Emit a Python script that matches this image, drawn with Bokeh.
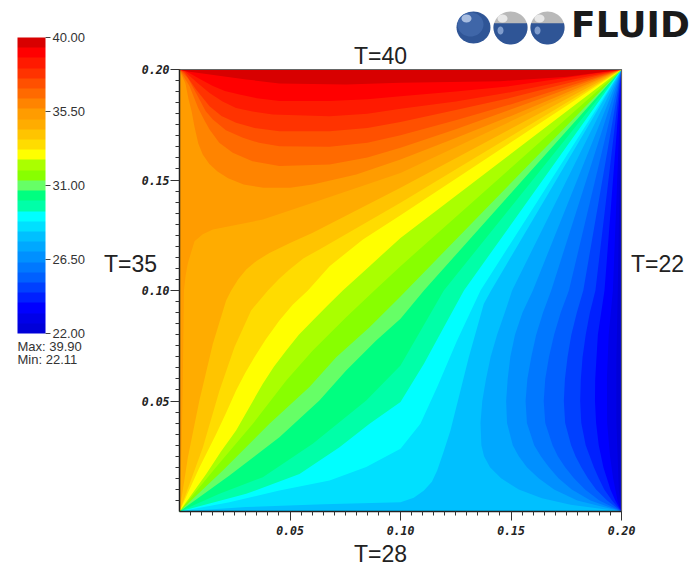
import numpy as np
from bokeh.embed import file_html
from bokeh.resources import INLINE
from bokeh.plotting import figure
from bokeh.models import (Range1d, LinearAxis, FixedTicker, PrintfTickFormatter, ColorBar,
                          LinearColorMapper, Label)

tick_major = [0.05, 0.10, 0.15, 0.20]
tick_minor = [round(0.005 * i, 3) for i in range(1, 41) if i % 10]
bar_ticks = [22.0, 26.5, 31.0, 35.5, 40.0]
t_low, t_high = 22.0, 40.0
stats = ["Max:  39.90", "Min:  22.11"]
walls = ["T=40", "T=35", "T=22", "T=28"]

palette = ["#0000d8", "#0000e8", "#0000ff", "#0020ff", "#0040ff", "#0060ff", "#0078ff", "#0090ff",
           "#00a8ff", "#00c0ff", "#00e0ff", "#00ffff", "#00ffa8", "#00ff80", "#66ff66", "#88ff00",
           "#aaff00", "#ffff00", "#ffdc00", "#ffc400", "#ffac00", "#ff9c00", "#ff8400", "#ff6a00",
           "#ff5000", "#ff3300", "#ff1a00", "#ff0000", "#d80000"]

# Isotherms between successive bands (metres).
# Family C: from the bottom-right corner to the top-right corner.
e01_x = [.1988, .1977, .1977, .1983]
e01_y = [.0095, .0397, .0698, .1]
e02_x = [.1982, .1962, .1948, .1935, .1934, .1942, .1961]
e02_y = [.005, .015, .025, .04, .06, .08, .1]
e03_x = [.1972, .195, .1918, .1897, .1885, .188, .1881, .1893, .1923]
e03_y = [.005, .01, .02, .03, .04, .05, .06, .08, .1]
e04_x = [.1957, .1922, .1897, .1875, .1838, .1818, .1813, .1816, .1824, .1838, .1857, .1882]
e04_y = [.005, .01, .015, .02, .03, .04, .05, .06, .07, .08, .09, .1]
e05_x = [.1935, .1885, .1848, .1818, .1792, .1772, .1745, .1739, .1744, .1756, .1773, .1798, .1827]
e05_y = [.005, .01, .015, .02, .025, .03, .04, .05, .06, .07, .08, .09, .1]
e06_x = [.19, .1835, .1785, .1745, .1712, .1688, .1655, .1648, .1655, .1672, .1695, .1725, .1762]
e06_y = [.005, .01, .015, .02, .025, .03, .04, .05, .06, .07, .08, .09, .1]
e07_x = [.186, .1775, .1715, .1672, .1635, .1605, .1572, .1566, .1574, .1592, .1614, .1645, .1682]
e07_y = [.005, .01, .015, .02, .025, .03, .04, .05, .06, .07, .08, .09, .1]
e08_x = [.18, .1695, .1625, .1572, .1535, .1508, .1482, .1478, .1485, .1497, .1518, .1552, .1599]
e08_y = [.005, .01, .015, .02, .025, .03, .04, .05, .06, .07, .08, .09, .1]
e09_x = [.177, .164, .1535, .1455, .1405, .1378, .1366, .1362, .137, .1387, .1408, .1437, .1472, .1505]
e09_y = [.003, .006, .01, .015, .02, .025, .03, .04, .05, .06, .07, .08, .09, .1]
# Family B: from the bottom-left corner to the top-right corner.
e10_x = [.03, .065, .1, .106, .1106, .1142, .1166, .1195, .1226, .1309, .1377, .141]
e10_y = [.002, .0033, .0042, .0062, .0095, .0135, .0186, .027, .0367, .0698, .094, .1]
e11_x = [.0226, .0452, .0679, .0845, .1, .109, .1166, .1256, .1362]
e11_y = [.0042, .0095, .014, .0201, .0284, .0397, .0563, .0774, .1]
e12_x = [.0302, .0543, .0724, .086, .1, .1106, .1196, .1287]
e12_y = [.008, .017, .0291, .0397, .0495, .0668, .0834, .1]
e13_x = [.0181, .0377, .0603, .0845, .1, .1196]
e13_y = [.008, .0155, .0306, .0502, .0661, .1]
e14_x = [.0226, .0452, .0633, .0754, .089, .1, .1106]
e14_y = [.0163, .0336, .0502, .0638, .0774, .0872, .1]
e15_x = [.0196, .0407, .0588, .0709, .086, .1]
e15_y = [.0186, .0397, .0563, .0698, .0834, .0973]
e16_x = [.0166, .0332, .0483, .0603, .0754, .0882, .1]
e16_y = [.0201, .0397, .0593, .0729, .0879, .1, .111]
e17_x = [.0121, .0187, .0256, .0315, .0377, .0427, .0483, .054, .0603, .067, .0739, .086, .1]
e17_y = [.017, .027, .0367, .047, .0578, .0655, .0729, .08, .0864, .0932, .1, .111, .1238]
e18_x = [.0088, .0166, .021, .0256, .0296, .0339, .039, .0452, .0512, .0581, .0679, .083, .1]
e18_y = [.0195, .0351, .0445, .0548, .0625, .0698, .0778, .0864, .0935, .1, .111, .1231, .1341]
e19_x = [.0106, .0181, .0249, .0324, .04, .045, .0498, .056, .0633, .1]
e19_y = [.0291, .0548, .0744, .091, .1, .1052, .1095, .1145, .1186, .1397]
e20_x = [.0038, .009, .0151, .0211, .0234, .0265, .0302, .035, .0407, .05, .0603, .1]
e20_y = [.0246, .0502, .0759, .0955, .1, .105, .1095, .1135, .117, .1215, .1261, .1465]
e21_x = [.001, .0015, .002, .0028, .0038, .0068, .0105, .0151, .0377, .0603, .1]
e21_y = [.03, .06, .1, .107, .1125, .1223, .1255, .1276, .1321, .1397, .1532]
# Family A: from the top-left corner to the top-right corner.
e22_x = [.0012, .0027, .004, .0055, .0068, .0085, .0105, .0135, .0172, .022, .029, .038, .05, .0603, .08, .1, .125, .1498]
e22_y = [.197, .1937, .187, .181, .174, .1665, .1615, .1572, .1538, .1508, .148, .1465, .1465, .148, .1525, .1593, .169, .1789]
e23_x = [.0045, .0085, .0112, .0136, .018, .0241, .033, .0452, .0679, .085, .1, .125, .1498]
e23_y = [.1925, .1825, .1772, .1729, .1668, .1623, .1585, .1563, .157, .1602, .1646, .173, .1819]
e24_x = [.0038, .009, .0118, .0151, .021, .0287, .036, .0452, .0679, .085, .1, .125, .1498]
e24_y = [.1962, .1865, .1812, .1774, .1725, .1691, .1668, .1653, .165, .1668, .1703, .177, .1842]
e25_x = [.0023, .0075, .0136, .019, .0256, .034, .0452, .0679, .085, .1, .125, .1498]
e25_y = [.1985, .191, .1834, .179, .1759, .1735, .1721, .1721, .1735, .1762, .1817, .1872]
e26_x = [.0025, .0075, .0136, .0195, .0256, .033, .0422, .0679, .085, .1, .125, .1498]
e26_y = [.199, .1945, .1894, .1855, .1826, .181, .1796, .1789, .18, .1822, .1855, .1897]
e27_x = [.003, .009, .0151, .0205, .0271, .035, .0452, .0679, .085, .1, .125, .1498]
e27_y = [.1992, .1958, .1925, .1903, .1887, .187, .1857, .1857, .1865, .1879, .19, .1925]
e28_x = [.003, .0302, .0452, .0754, .1, .1452, .1754]
e28_y = [.1992, .1955, .1937, .1932, .194, .1947, .1967]

edges_x = [e01_x, e02_x, e03_x, e04_x, e05_x, e06_x, e07_x, e08_x, e09_x, e10_x, e11_x, e12_x, e13_x, e14_x,
           e15_x, e16_x, e17_x, e18_x, e19_x, e20_x, e21_x, e22_x, e23_x, e24_x, e25_x, e26_x, e27_x, e28_x]
edges_y = [e01_y, e02_y, e03_y, e04_y, e05_y, e06_y, e07_y, e08_y, e09_y, e10_y, e11_y, e12_y, e13_y, e14_y,
           e15_y, e16_y, e17_y, e18_y, e19_y, e20_y, e21_y, e22_y, e23_y, e24_y, e25_y, e26_y, e27_y, e28_y]

L, R = 0.0, 0.2
xs, ys = [[L, R, R, L]], [[L, L, R, R]]
for k, (ex, ey) in enumerate(zip(edges_x, edges_y), start=1):
    if k <= 9:      # region left of the curve
        px = [R] + ex + [R, L, L]
        py = [L] + ey + [R, R, L]
    elif k <= 21:   # region above-left of the curve
        px = [L] + ex + [R, L]
        py = [L] + ey + [R, R]
    else:           # region above the curve
        px = [L] + ex + [R]
        py = [R] + ey + [R]
    xs.append(px)
    ys.append(py)


def dx(px):
    return (px - 179) / 442 * 0.2


def dy(py):
    return (511 - py) / 442 * 0.2


W, H = 695, 570
p = figure(width=W, height=H, output_backend="svg", toolbar_location=None,
           x_range=Range1d(dx(0), dx(W)), y_range=Range1d(dy(H), dy(0)), x_axis_type=None, y_axis_type=None,
           min_border=0, min_border_left=0, min_border_right=0, min_border_top=0, min_border_bottom=0)
p.grid.visible = False
p.outline_line_color = None

p.patches(xs, ys, fill_color=palette, line_color=None)
p.line([L, R, R], [R, R, L], line_color="#666666", line_width=1.2)


def make_axis(loc):
    a = LinearAxis(ticker=FixedTicker(ticks=tick_major, minor_ticks=tick_minor),
                   formatter=PrintfTickFormatter(format="%.2f"), fixed_location=loc, bounds=(L, R))
    a.axis_line_color = "#222222"
    a.axis_line_width = 1.5
    a.major_tick_line_color = "#333333"
    a.minor_tick_line_color = "#333333"
    a.major_tick_in = 0
    a.minor_tick_in = 0
    a.major_tick_out = 9
    a.minor_tick_out = 4
    a.major_label_text_font = "DejaVu Sans Mono"
    a.major_label_text_font_style = "bold italic"
    a.major_label_text_font_size = "11.5px"
    a.major_label_text_color = "#222222"
    return a


ax_l = make_axis(L)
ax_l.major_label_standoff = 1
ax_b = make_axis(L)
ax_b.major_label_standoff = 5
p.add_layout(ax_l, "left")
p.add_layout(ax_b, "below")

mapper = LinearColorMapper(palette=palette, low=t_low, high=t_high)
bar = ColorBar(color_mapper=mapper, ticker=FixedTicker(ticks=bar_ticks),
               formatter=PrintfTickFormatter(format="%.2f"),
               location=(17, H - 333), width=28, height=296, padding=0, margin=0,
               major_tick_in=0, major_tick_out=5, major_tick_line_color="#444444",
               major_label_text_font="Liberation Sans", major_label_text_font_size="13px",
               major_label_text_color="#333333", label_standoff=2,
               bar_line_color=None, border_line_color=None, background_fill_color=None)
p.add_layout(bar, "center")

wall_pos = [(380, 55), (130, 263), (657, 263), (380, 553)]
for t, (px, py) in zip(walls, wall_pos):
    p.add_layout(Label(x=dx(px), y=dy(py), text=t, text_font="Liberation Sans", text_font_size="23px",
                       text_color="#222222", text_align="center", text_baseline="middle"))
for t, py in zip(stats, [346, 359]):
    p.add_layout(Label(x=dx(17), y=dy(py), text=t, text_font="Liberation Sans", text_font_size="13px",
                       text_color="#333333", text_align="left", text_baseline="middle"))
p.add_layout(Label(x=dx(630), y=dy(24), text="FLUID", text_font="DejaVu Sans", text_font_style="bold",
                   text_font_size="36px", text_color="#1a1a1a", text_align="center", text_baseline="middle"))

# logo spheres
k = 0.2 / 442
ang = np.linspace(0, 2 * np.pi, 48, endpoint=False)


def blob(cx, cy, rx, ry, color):
    p.patch(dx(cx) + k * rx * np.cos(ang), dy(cy) - k * ry * np.sin(ang), fill_color=color, line_color=None)


def half(cx, cy, r, color):
    a = np.linspace(-0.25, np.pi + 0.25, 36)
    p.patch(dx(cx) + k * r * np.cos(a), dy(cy) - k * r * np.sin(a), fill_color=color, line_color=None)


blob(473, 27, 17, 16, "#2f5596")
blob(470, 24, 13, 12, "#3f66a8")
blob(466, 18, 5, 4, "#a8bde0")
for cx in (510, 547):
    blob(cx, 27, 17, 16, "#b9b9b9")
    half(cx, 27, 17, "#2f5596")
    blob(cx - 8, 18, 5, 4, "#e8e8e8")
    blob(cx - 10, 30, 3, 4, "#7f9ccc")

open("out.html", "w").write(file_html(p, INLINE))
